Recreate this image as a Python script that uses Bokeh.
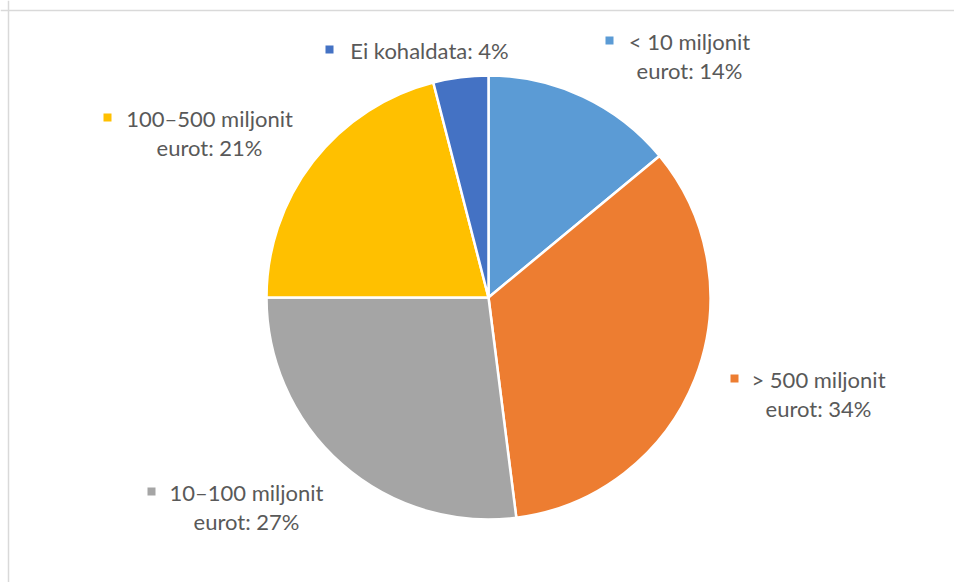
import math
from bokeh.plotting import figure
from bokeh.models import Range1d, Span, ColumnDataSource
from bokeh.core.properties import value
from bokeh.embed import file_html
from bokeh.resources import INLINE

# ---- data ----
categories = ["< 10 miljonit eurot", "> 500 miljonit eurot", "10–100 miljonit eurot",
              "100–500 miljonit eurot", "Ei kohaldata"]
shares = [14, 34, 27, 21, 4]
label_line1 = ["< 10 miljonit", "> 500 miljonit", "10–100 miljonit", "100–500 miljonit", "Ei kohaldata: 4%"]
label_line2 = ["eurot: 14%", "eurot: 34%", "eurot: 27%", "eurot: 21%", ""]
colors = ["#5B9BD5", "#ED7D31", "#A5A5A5", "#FFC000", "#4472C4"]

# ---- layout (window pixel positions) ----
W, H = 954, 582
def to_data(sx, sy):
    return sx, H - sy

pie_center = to_data(488, 297)
pie_radius = 222
# text centre x, first-line centre y, marker x
label_pos = [(689, 41, 609), (818, 379, 734), (246, 492, 151), (209, 118, 107), (429, 50, 329)]
line_gap = 29

total = sum(shares)
starts, ends = [], []
cum = 0.0
for s in shares:
    starts.append(math.pi / 2 - 2 * math.pi * cum / total)
    cum += s
    ends.append(math.pi / 2 - 2 * math.pi * cum / total)

src = ColumnDataSource(dict(cat=categories, share=shares, start=starts, end=ends, color=colors))

p = figure(width=W, height=H, output_backend="svg", toolbar_location=None,
           x_range=Range1d(0, W), y_range=Range1d(0, H), min_border=0)
p.axis.visible = False
p.grid.visible = False
p.outline_line_color = None
p.background_fill_color = "white"
p.border_fill_color = "white"

p.wedge(x=pie_center[0], y=pie_center[1], radius=pie_radius, start_angle="start", end_angle="end",
        direction="clock", fill_color="color", line_color="white", line_width=2.5, source=src)

tx, ty1, ty2, mx, my, l1, l2 = [], [], [], [], [], [], []
for (cx, cy, mkx), a, b in zip(label_pos, label_line1, label_line2):
    x, y = to_data(cx, cy)
    tx.append(x); ty1.append(y); ty2.append(y - line_gap)
    mkd = to_data(mkx, cy - 1)
    mx.append(mkd[0]); my.append(mkd[1])
    l1.append(a); l2.append(b)

lab = ColumnDataSource(dict(x=tx, y1=ty1, y2=ty2, mx=mx, my=my, l1=l1, l2=l2, color=colors))
p.scatter(x="mx", y="my", marker="square", size=8, fill_color="color", line_color=None, source=lab)
for col, ycol in (("l1", "y1"), ("l2", "y2")):
    p.text(x="x", y=ycol, text=col, source=lab, text_align="center", text_baseline="middle",
           text_font=value("Lato"), text_font_size="22px", text_color="#595959")

# chart-area border (only top and left edges fall inside the window)
bt = to_data(8, 10)
p.add_layout(Span(location=bt[1], dimension="width", line_color="#D9D9D9", line_width=1.5))
p.add_layout(Span(location=bt[0], dimension="height", line_color="#D9D9D9", line_width=1.5))

open("out.html", "w").write(file_html(p, INLINE))
